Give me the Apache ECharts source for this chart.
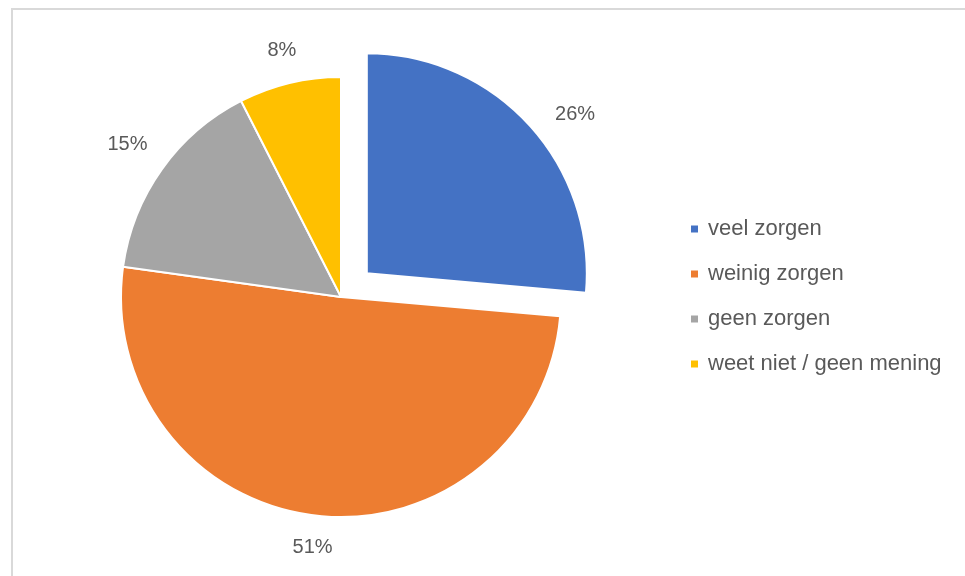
<!DOCTYPE html>
<html>
<head>
<meta charset="utf-8">
<script src="https://cdn.jsdelivr.net/npm/echarts@6/dist/echarts.min.js"></script>
<style>
html,body{margin:0;padding:0;background:#fff;}
#chart{width:965px;height:576px;}
</style>
</head>
<body>
<div id="chart"></div>
<script>
const categories = ['veel zorgen', 'weinig zorgen', 'geen zorgen', 'weet niet / geen mening'];
const values = [26.4, 50.8, 15.3, 7.5];
const colors = ['#4472C4', '#ED7D31', '#A5A5A5', '#FFC000'];
const explodedIndex = 0;

const CX = 341, CY = 297, R = 220, OFFSET = 35, GAP = 20;
const total = values.reduce((a, b) => a + b, 0);

const chart = echarts.init(document.getElementById('chart'));
chart.setOption({
  animation: false,
  backgroundColor: '#ffffff',
  textStyle: { fontFamily: 'Liberation Sans, Arial, sans-serif' },
  graphic: [{
    type: 'rect',
    shape: { x: 12, y: 9, width: 1000, height: 1000 },
    style: { fill: 'none', stroke: '#d9d9d9', lineWidth: 2 },
    silent: true
  }],
  legend: {
    orient: 'vertical',
    left: 684,
    top: 212,
    itemWidth: 9,
    itemHeight: 9,
    itemGap: 21,
    icon: 'rect',
    data: categories,
    textStyle: { color: '#595959', fontSize: 22, lineHeight: 24, padding: [0, 0, 0, 4] }
  },
  series: [{
    type: 'pie',
    center: [CX, CY],
    radius: R,
    startAngle: 90,
    clockwise: true,
    selectedMode: 'single',
    selectedOffset: OFFSET,
    emphasis: { disabled: true },
    itemStyle: { borderColor: '#ffffff', borderWidth: 2 },
    label: {
      show: true,
      position: 'outside',
      formatter: function (p) { return Math.round(p.value / total * 100) + '%'; },
      color: '#595959',
      fontSize: 20
    },
    labelLine: { show: false },
    labelLayout: function (p) {
      const i = p.dataIndex;
      let start = 0;
      for (let k = 0; k < i; k++) start += values[k];
      const mid = (start + values[i] / 2) / total * Math.PI * 2;
      const dx = Math.sin(mid), dy = -Math.cos(mid);
      const w = p.labelRect.width, h = p.labelRect.height;
      const ext = Math.abs(dx) * w / 2 + Math.abs(dy) * h / 2;
      const d = R + GAP + ext + (i === explodedIndex ? OFFSET : 0);
      return { x: CX + dx * d, y: CY + dy * d, align: 'center', verticalAlign: 'middle' };
    },
    data: categories.map((name, i) => ({
      name: name,
      value: values[i],
      selected: i === explodedIndex,
      itemStyle: { color: colors[i] }
    }))
  }]
});
</script>
</body>
</html>
